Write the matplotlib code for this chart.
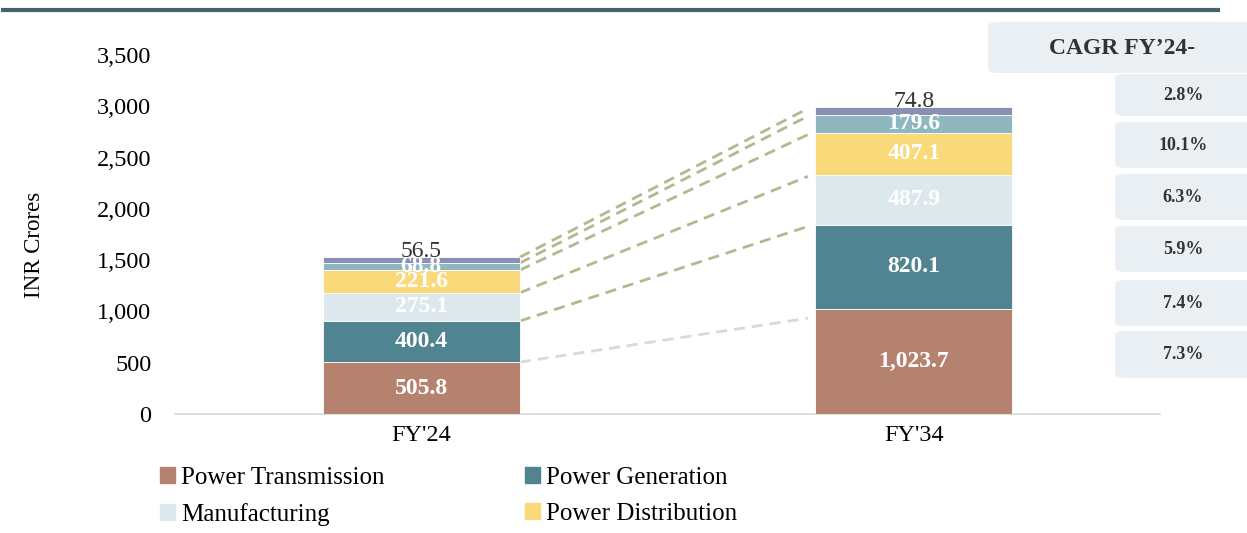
import matplotlib
matplotlib.use("Agg")
import matplotlib.pyplot as plt
from matplotlib.patches import FancyBboxPatch
from matplotlib.lines import Line2D

plt.rcParams['font.family'] = ['Liberation Serif', 'DejaVu Serif']

# data
years = ["FY'24", "FY'34"]
segments = ["Power Transmission", "Power Generation", "Manufacturing",
            "Power Distribution", "Others", "Services"]
fy24 = [505.8, 400.4, 275.1, 221.6, 68.8, 56.5]
fy34 = [1023.7, 820.1, 487.9, 407.1, 179.6, 74.8]
cagr = ["7.3%", "7.4%", "5.9%", "6.3%", "10.1%", "2.8%"]
yticks = [0, 500, 1000, 1500, 2000, 2500, 3000, 3500]

colors = ["#B5826F", "#4F8490", "#DDE8EC", "#FAD97A", "#8FB7C0", "#8A8FB4"]
label_colors = ["white", "white", "white", "white", "white", "#333333"]

fig = plt.figure(figsize=(12.47, 5.33), dpi=100)
ax = fig.add_axes([0.1403, 0.2233, 0.79, 0.6735])

x = [0, 1]
bw = 0.4
bottoms = [0.0, 0.0]
tops = []  # cumulative boundaries per segment
for i, name in enumerate(segments):
    vals = [fy24[i], fy34[i]]
    ax.bar(x, vals, bw, bottom=bottoms, color=colors[i], label=name,
           edgecolor='white', linewidth=0.6, zorder=3)
    for j in range(2):
        if i == len(segments) - 1:
            ypos = bottoms[j] + vals[j] + 55
            ax.text(x[j], ypos, f"{vals[j]:,.1f}", ha='center', va='center',
                    color=label_colors[i], fontsize=17, zorder=5)
        else:
            ypos = bottoms[j] + vals[j] / 2
            ax.text(x[j], ypos, f"{vals[j]:,.1f}", ha='center', va='center',
                    color=label_colors[i], fontsize=17, fontweight='bold', zorder=5)
    bottoms = [bottoms[0] + vals[0], bottoms[1] + vals[1]]
    tops.append(list(bottoms))

# dashed connectors between bar boundaries
for i, t in enumerate(tops):
    c = "#D9D9D9" if i == 0 else "#B5B88E"
    ax.plot([x[0] + bw / 2, x[1] - bw / 2 - 0.015], [t[0], t[1] - (90 if i == 0 else 15)],
            ls=(0, (4, 2.5)), color=c, lw=2, zorder=2)

ax.set_xlim(-0.5, 1.5)
ax.set_ylim(0, 3500)
ax.set_yticks(yticks)
ax.set_yticklabels([f"{v:,}" for v in yticks], fontsize=17.5)
ax.set_xticks(x)
ax.set_xticklabels(years, fontsize=17.5)
ax.tick_params(length=0, pad=8)
ax.tick_params(axis='y', pad=17)
for s in ['top', 'right', 'left']:
    ax.spines[s].set_visible(False)
ax.spines['bottom'].set_color('#D9D9D9')
ax.spines['bottom'].set_linewidth(1.2)
ax.set_ylabel("INR Crores", fontsize=16.5, labelpad=37, y=0.47)

# legend row-wise: PT, PG / Mfg, PD
order = [0, 2, 1, 3]
handles = [plt.Rectangle((0, 0), 1, 1, color=colors[k]) for k in order]
fig.legend(handles, [segments[k] for k in order], loc='upper left',
           bbox_to_anchor=(0.1184, 0.1475), ncol=2, frameon=False, fontsize=18,
           handlelength=0.6, handleheight=0.6, handletextpad=0.25,
           columnspacing=5.6, labelspacing=0.55, borderpad=0)

# top rule
fig.add_artist(Line2D([3 / 1247, 1218 / 1247], [1 - 10 / 533] * 2, color='#44636B', lw=3))

# CAGR boxes
W, H = 1247, 533
box_c = '#EAEFF3'

def fbox(x0, y0, x1, y1):
    p = FancyBboxPatch((x0 / W, 1 - y1 / H), (x1 - x0) / W, (y1 - y0) / H,
                       boxstyle="round,pad=0,rounding_size=0.008",
                       transform=fig.transFigure, facecolor=box_c, edgecolor='none')
    fig.add_artist(p)

fbox(988, 22, 1260, 73)
fig.text(1122 / W, 1 - 48 / H, "CAGR FY\u201924-", ha='center', va='center',
         fontsize=17, fontweight='bold', color='#333333')
rows = [(74, 116), (122, 168), (174, 220), (226, 272), (280, 326), (331, 378)]
for (y0, y1), val in zip(rows, cagr[::-1]):
    fbox(1115, y0, 1260, y1)
    fig.text(1183 / W, 1 - (y0 + y1) / 2 / H, val, ha='center', va='center',
             fontsize=13, fontweight='bold', color='#333333')

fig.savefig("out.png", dpi=100)
